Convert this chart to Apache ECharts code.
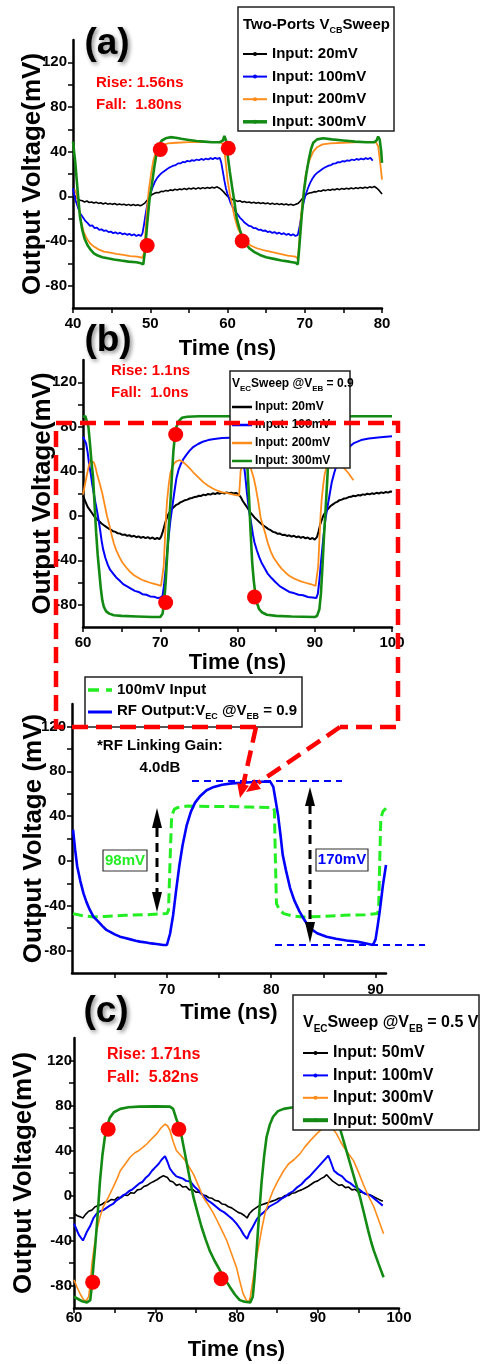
<!DOCTYPE html>
<html>
<head>
<meta charset="utf-8">
<script src="https://cdn.jsdelivr.net/npm/echarts@6/dist/echarts.min.js"></script>
<style>
html,body{margin:0;padding:0;background:#fff;}
#chart{width:483px;height:1364px;}
</style>
</head>
<body>
<div id="chart"></div>
<script>
// ---------------- DATA ----------------
const yLabelValues = [-80, -40, 0, 40, 80, 120];
const yTickValues = [-80, -60, -40, -20, 0, 20, 40, 60, 80, 100, 120];
const xLabelsA = [40, 50, 60, 70, 80];
const xTicksA = [40, 45, 50, 55, 60, 65, 70, 75, 80];
const xLabelsB = [60, 70, 80, 90, 100];
const xTicksB = [60, 65, 70, 75, 80, 85, 90, 95, 100];
const xLabelsZ = [70, 80, 90];
const xTicksZ = [65, 70, 75, 80, 85, 90];
const xLabelsC = [60, 70, 80, 90, 100];
const xTicksC = [60, 65, 70, 75, 80, 85, 90, 95, 100];

// (a) Two-Ports VCB sweep
const a20 = [[40.0,3],[40.3,0],[40.6,-2],[40.9,-3.5],[41.2,-4],[41.5,-5],[41.8,-4.2],[42.1,-5.5],[42.4,-5],[42.7,-6],[43,-5.2],[43.3,-6.3],[43.6,-5.8],[43.9,-6.8],[44.2,-6],[44.5,-7],[44.8,-6.4],[45.1,-7.2],[45.4,-6.5],[45.7,-7.5],[46,-6.8],[46.3,-7.6],[46.6,-7],[46.9,-8],[47.2,-7.2],[47.5,-8.2],[47.8,-7.4],[48.1,-8.3],[48.4,-7.6],[48.7,-8.4],[49,-7.5],[49.3,-6],[49.6,-3.5],[49.9,-0.5],[50.2,1.5],[50.5,2.5],[50.8,3.5],[51.1,3.2],[51.4,4.5],[51.7,4.2],[52,5.3],[52.3,4.8],[52.6,5.8],[52.9,5.2],[53.2,6.3],[53.5,5.6],[53.8,6.6],[54.1,6],[54.4,7],[54.7,6.2],[55,7.2],[55.3,6.5],[55.6,7.5],[55.9,6.6],[56.2,7.6],[56.5,6.8],[56.8,7.8],[57.1,7],[57.4,8],[57.7,7.2],[58,8.2],[58.3,7.4],[58.6,8.5],[58.9,7.5],[59.2,6],[59.5,4],[59.8,1.5],[60.1,-0.5],[60.4,-2],[60.7,-3],[61,-3.5],[61.3,-4.5],[61.6,-4],[61.9,-5.2],[62.2,-4.6],[62.5,-5.5],[62.8,-5],[63.1,-6],[63.4,-5.3],[63.7,-6.2],[64,-5.5],[64.3,-6.5],[64.6,-5.8],[64.9,-6.7],[65.2,-6],[65.5,-7],[65.8,-6.2],[66.1,-7.2],[66.4,-6.4],[66.7,-7.4],[67,-6.6],[67.3,-7.5],[67.6,-6.8],[67.9,-7.8],[68.2,-7],[68.5,-8],[68.8,-7.2],[69.1,-6.5],[69.4,-4.5],[69.7,-2],[70,0.5],[70.3,2],[70.6,3],[70.9,3.3],[71.2,4.2],[71.5,4],[71.8,5],[72.1,4.6],[72.4,5.6],[72.7,5.1],[73,6],[73.3,5.5],[73.6,6.4],[73.9,5.8],[74.2,6.7],[74.5,6],[74.8,7],[75.1,6.3],[75.4,7.2],[75.7,6.5],[76,7.5],[76.3,6.7],[76.6,7.7],[76.9,7],[77.2,8],[77.5,7.2],[77.8,8.2],[78.1,7.4],[78.4,8.5],[78.7,7.8],[79,8.8],[79.3,7.5],[79.6,5.5],[79.9,3],[80,2]];
const a100 = [[40,7],[40.2,0],[40.4,-5],[40.6,-9],[40.8,-13],[41,-16],[41.3,-19],[41.6,-22],[41.9,-24],[42.2,-26.5],[42.5,-26],[42.8,-28.5],[43.1,-28],[43.4,-30],[43.7,-29.5],[44,-31],[44.3,-30.5],[44.6,-32],[44.9,-31.5],[45.2,-33],[45.5,-32.2],[45.8,-33.5],[46.1,-32.5],[46.4,-34],[46.7,-33.2],[47,-34.5],[47.3,-33.6],[47.6,-35],[47.9,-34],[48.2,-35.5],[48.5,-34.5],[48.8,-35.5],[49,-33],[49.2,-25],[49.4,-16],[49.6,-8],[49.8,-2],[50,2],[50.3,8],[50.6,13],[50.9,16.5],[51.2,19],[51.5,21],[51.8,22.5],[52.1,24],[52.4,25.5],[52.7,26.5],[53,27.5],[53.3,28],[53.6,29.5],[53.9,29.5],[54.2,30.8],[54.5,30.5],[54.8,31.8],[55.1,31.2],[55.4,32.4],[55.7,31.8],[56,33],[56.3,32.3],[56.6,33.5],[56.9,32.6],[57.2,33.8],[57.5,33],[57.8,34.2],[58.1,33.3],[58.4,34.5],[58.7,33.6],[59,34.5],[59.2,30],[59.4,22],[59.6,14],[59.8,7],[60,2],[60.2,-2],[60.4,-6],[60.7,-10],[61,-13.5],[61.3,-16],[61.6,-19],[61.9,-21],[62.2,-23.5],[62.5,-25],[62.8,-26.5],[63.1,-27],[63.4,-28.5],[63.7,-28.5],[64,-30],[64.3,-29.8],[64.6,-31],[64.9,-30.6],[65.2,-32],[65.5,-31.4],[65.8,-32.8],[66.1,-32],[66.4,-33.4],[66.7,-32.5],[67,-34],[67.3,-33],[67.6,-34.5],[67.9,-33.6],[68.2,-35],[68.5,-34],[68.8,-35.5],[69.1,-34.5],[69.3,-28],[69.5,-20],[69.7,-11],[69.9,-4],[70.1,1],[70.4,7],[70.7,12],[71,16],[71.3,19],[71.6,21],[71.9,22.5],[72.2,24],[72.5,25.5],[72.8,26.5],[73.1,27.5],[73.4,28],[73.7,29.3],[74,29.5],[74.3,30.6],[74.6,30.5],[74.9,31.6],[75.2,31.2],[75.5,32.3],[75.8,31.8],[76.1,33],[76.4,32.3],[76.7,33.5],[77,32.7],[77.3,33.8],[77.6,33],[77.9,34.2],[78.2,33.4],[78.5,34.5],[78.8,32]];
const a200 = [[40.3,6],[40.5,0],[40.8,-12],[41.1,-24],[41.4,-32],[41.8,-38],[42.2,-42],[42.7,-45],[43.3,-47.5],[44,-49.5],[44.8,-50.5],[45.6,-51.5],[46.5,-52.5],[47.4,-53.5],[48.3,-54],[49,-55],[49.2,-50],[49.4,-30],[49.6,-10],[49.8,5],[50.1,20],[50.4,32],[50.7,39],[51.1,43],[51.6,46],[52.3,47.5],[53.4,48],[55,48.5],[57,48.5],[59,48.5],[59.4,47],[59.7,35],[60,15],[60.3,2],[60.6,-8],[60.9,-18],[61.3,-28],[61.8,-35],[62.3,-40],[63,-44],[63.8,-46.5],[64.8,-48.5],[65.8,-50],[66.8,-51.5],[67.8,-53],[68.8,-54],[69.1,-56],[69.3,-40],[69.5,-18],[69.8,0],[70.1,18],[70.4,28],[70.7,34],[71.1,40],[71.6,44],[72.3,46.5],[73.3,47.5],[75,48],[77,48.5],[79.2,48.5],[79.5,45],[79.8,28],[80,15]];
const a300 = [[40,49],[40.3,30],[40.6,5],[40.9,-18],[41.2,-30],[41.5,-38],[41.9,-44],[42.3,-48],[42.7,-51],[43.2,-53],[43.8,-54.5],[44.5,-55.5],[45.3,-56.5],[46.2,-57.5],[47.2,-58.5],[48.2,-59],[48.8,-60],[49.1,-61],[49.3,-50],[49.6,-25],[49.9,-3],[50.2,10],[50.5,25],[50.8,38],[51.1,46],[51.5,50],[52,52],[52.6,53],[53.3,52.5],[54,51.5],[55,50.5],[56,49.5],[57,49],[58,48.5],[59,48.5],[59.4,50],[59.6,54],[59.8,50],[60,38],[60.3,22],[60.6,8],[60.9,-5],[61.2,-20],[61.6,-30],[62,-38],[62.4,-43],[62.9,-47],[63.5,-50],[64.2,-52.5],[65,-54.5],[66,-56],[67,-57.5],[68,-58.5],[68.8,-59.5],[69.1,-61],[69.3,-45],[69.6,-18],[69.9,5],[70.2,20],[70.5,32],[70.8,42],[71.1,48],[71.6,51],[72.4,52],[73.5,51],[75,50],[76.5,49],[78,48.5],[79,48.5],[79.3,50],[79.5,53.5],[79.7,51],[79.9,40],[80,30]];
const aDots = [[51.3,42],[49.6,-44],[60.1,43],[61.9,-40]];

// (b) VEC sweep @VEB = 0.9
const b20 = [[60,18],[60.3,13],[60.6,8],[60.9,5],[61.2,2],[61.5,-1],[61.8,-3],[62.1,-5],[62.4,-7],[62.7,-8.5],[63,-10],[63.3,-11.5],[63.6,-12.5],[63.9,-14],[64.2,-14.5],[64.5,-15.8],[64.8,-16],[65.1,-17.2],[65.4,-16.8],[65.7,-18],[66,-17.5],[66.3,-18.8],[66.6,-18],[66.9,-19.3],[67.2,-18.5],[67.5,-19.8],[67.8,-19],[68.1,-20.2],[68.4,-19.2],[68.7,-20.5],[69,-19.5],[69.3,-21],[69.6,-20],[69.9,-21],[70.1,-19],[70.3,-15],[70.5,-10],[70.7,-5],[70.9,-1],[71.1,2],[71.4,5],[71.7,7.5],[72,9.5],[72.3,10.5],[72.6,12],[72.9,13],[73.2,14],[73.5,14.5],[73.8,15.5],[74.1,16],[74.4,16.8],[74.7,17],[75,18],[75.3,17.8],[75.6,19],[75.9,18.5],[76.2,19.6],[76.5,19],[76.8,20.2],[77.1,19.5],[77.4,20.5],[77.7,19.8],[78,20.8],[78.3,20],[78.6,21],[78.9,20.2],[79.2,20.8],[79.5,20],[79.8,20.5],[80.1,19.5],[80.4,17],[80.7,13],[81,10],[81.3,7],[81.6,3.5],[81.9,1],[82.2,-1.5],[82.5,-3.5],[82.8,-5.5],[83.1,-7.5],[83.4,-9],[83.7,-10.5],[84,-12],[84.3,-13],[84.6,-14.5],[84.9,-15],[85.2,-16.2],[85.5,-16],[85.8,-17.3],[86.1,-17],[86.4,-18.2],[86.7,-17.6],[87,-18.8],[87.3,-18],[87.6,-19.3],[87.9,-18.6],[88.2,-19.8],[88.5,-19],[88.8,-20.3],[89.1,-19.5],[89.4,-21],[89.7,-20],[90,-21.5],[90.3,-19],[90.5,-14],[90.7,-8],[90.9,-4],[91.1,0],[91.4,3.5],[91.7,6],[92,8.5],[92.3,10],[92.6,11.5],[92.9,12.5],[93.2,14],[93.5,14.5],[93.8,15.5],[94.1,15.8],[94.4,16.8],[94.7,17],[95,18],[95.3,17.6],[95.6,18.6],[95.9,18.2],[96.2,19.2],[96.5,18.8],[96.8,19.8],[97.1,19.2],[97.4,20.2],[97.7,19.6],[98,20.6],[98.3,20],[98.6,21],[98.9,20.4],[99.2,21.4],[99.5,20.8],[99.8,21.8],[100,21.5]];
const b100 = [[60,71],[60.2,70],[60.4,65],[60.6,57],[60.8,46],[61,38],[61.2,28],[61.4,20],[61.6,12],[61.8,5],[62,-3],[62.2,-12],[62.4,-22],[62.6,-30],[62.9,-38],[63.2,-44],[63.5,-48.5],[63.9,-52],[64.3,-55.5],[64.7,-58],[65.2,-61.5],[65.7,-63.5],[66.2,-65.5],[66.7,-67.5],[67.2,-68.5],[67.7,-70.5],[68.2,-71],[68.7,-72.5],[69.2,-72.8],[69.7,-74],[70,-73.5],[70.3,-72],[70.5,-62],[70.7,-48],[70.9,-33],[71.1,-18],[71.3,-5],[71.5,5],[71.8,20],[72.1,34],[72.4,42],[72.7,47],[73,51],[73.4,55],[73.8,58.5],[74.3,62],[74.9,64.5],[75.5,66.5],[76.2,68],[77,69],[78,69.8],[79,70.2],[80,70.5],[80.4,69],[80.6,60],[80.8,48],[81,36],[81.2,22],[81.4,10],[81.6,0],[81.8,-8],[82,-17],[82.2,-24],[82.5,-31],[82.8,-37],[83.1,-42],[83.5,-47],[83.9,-52],[84.4,-56],[84.9,-59.5],[85.5,-63.5],[86.1,-66],[86.7,-68.5],[87.3,-69.5],[87.9,-71],[88.5,-71.5],[89.1,-73],[89.7,-73.5],[90.2,-74],[90.4,-70],[90.6,-58],[90.8,-42],[91,-28],[91.2,-14],[91.4,-2],[91.6,6],[91.9,18],[92.2,30],[92.5,38],[92.8,45],[93.2,51],[93.7,56],[94.3,61],[95,65],[96,68],[97,69.5],[98.5,70.5],[100,71.5]];
const b200 = [[60,19],[60.2,26],[60.4,33],[60.6,40],[60.8,46],[61,49.5],[61.2,50],[61.4,48],[61.6,44],[61.8,38],[62,33],[62.2,28],[62.5,20],[62.8,10],[63.1,0],[63.4,-8],[63.7,-17],[64,-25],[64.3,-31],[64.7,-37],[65.1,-42],[65.6,-46.5],[66.1,-50.5],[66.6,-53.5],[67.1,-55.5],[67.6,-57.5],[68.1,-58.8],[68.6,-60],[69.1,-61],[69.6,-62],[70.1,-63],[70.3,-62],[70.45,-45],[70.6,-22],[70.75,0],[70.9,15],[71.1,28],[71.3,38],[71.5,43],[71.8,47],[72.1,49],[72.5,50],[72.9,48.5],[73.4,45.5],[73.9,42],[74.4,38],[75,34],[75.6,30],[76.2,27],[76.8,24.5],[77.4,22.5],[78,21],[78.6,20.5],[79.2,19.5],[79.8,18.5],[80.2,18],[80.3,28],[80.4,40],[80.6,46],[80.9,49.5],[81.2,50],[81.5,47],[81.8,41],[82.1,34],[82.4,24],[82.7,12],[83,-2],[83.3,-9],[83.6,-16],[83.9,-24],[84.3,-32],[84.7,-38],[85.2,-43],[85.7,-47.5],[86.2,-51],[86.7,-54],[87.2,-56],[87.7,-57.5],[88.2,-59],[88.7,-60],[89.2,-61],[89.7,-62],[90.1,-63],[90.3,-62],[90.45,-45],[90.6,-22],[90.75,0],[90.9,15],[91.1,28],[91.3,38],[91.5,43],[91.8,47],[92.1,49],[92.5,50],[92.9,48.5],[93.4,45.5],[93.9,42],[94.4,38],[94.8,34],[95,32]];
const b300 = [[60,89],[60.3,89.5],[60.5,88],[60.7,80],[60.9,65],[61.1,48],[61.3,35],[61.5,10],[61.7,-15],[61.9,-35],[62.1,-50],[62.3,-65],[62.5,-76],[62.7,-82],[63,-86],[63.4,-88],[64,-89.5],[65,-90],[67,-90.5],[69,-91],[70,-91],[70.3,-88],[70.5,-78],[70.7,-60],[70.9,-35],[71.1,-10],[71.3,10],[71.5,35],[71.7,58],[71.9,72],[72.1,80],[72.4,85],[72.8,88],[73.5,89],[75,89.5],[78,89.5],[80.5,89.5],[80.7,88],[80.9,78],[81.1,60],[81.3,42],[81.5,15],[81.7,-15],[81.9,-42],[82.1,-58],[82.3,-70],[82.5,-78],[82.8,-84],[83.2,-87],[83.8,-89],[85,-90],[87,-90.5],[90,-91],[90.3,-90],[90.6,-84],[90.8,-70],[91,-45],[91.2,-18],[91.4,5],[91.6,30],[91.8,55],[92,72],[92.2,82],[92.5,87],[93,89],[95,89.5],[100,89.5]];
const bDots = [[72.0,73],[70.7,-78],[82.2,-73]];

// zoomed view: 100mV input vs RF output
const zInput = [[61,-47],[62,-49],[63,-50],[64,-49.5],[66,-48.5],[68,-48],[70,-47],[70.15,-44],[70.3,0],[70.45,40],[70.7,46],[71,47.5],[72,49],[74,48.5],[76,48.5],[78,48],[80.2,47.5],[80.3,45],[80.4,0],[80.5,-38],[80.8,-44],[81.2,-47],[82,-49],[83,-50],[85,-49.5],[87,-48.5],[89,-48],[90.2,-47],[90.3,-40],[90.4,0],[90.5,38],[90.7,44],[91,47]];
const zOutput = [[61,28],[61.2,10],[61.4,-5],[61.7,-18],[62,-29],[62.3,-37],[62.6,-43.5],[62.95,-49.7],[63.4,-54],[63.8,-58],[64.2,-61.6],[64.6,-63.5],[65,-65.5],[65.5,-67.6],[66,-68.8],[66.5,-70],[67,-71.2],[67.4,-72],[68,-72.8],[68.5,-73.6],[69,-74.2],[69.65,-75],[70,-75],[70.3,-65],[70.6,-48],[70.9,-25],[71.2,-3.6],[71.5,14],[71.9,32],[72.3,44],[72.7,52],[73.2,58],[73.8,63],[74.5,66],[75.3,68],[76.2,69.2],[77,69.6],[78,70.2],[79,70.6],[79.9,70.8],[80.2,66],[80.4,55],[80.65,41],[80.9,22],[81.1,5.4],[81.4,-8],[81.8,-24],[82.2,-35],[82.7,-45],[83.2,-53],[83.7,-60],[84.4,-64.5],[85.3,-67.6],[86.2,-69.5],[87.2,-71],[88.2,-72],[89,-73.5],[89.75,-75],[90,-70],[90.2,-58],[90.4,-45],[90.7,-22],[91,-3.6]];

// (c) VEC sweep @VEB = 0.5 V
const c50 = [[60,-16],[60.4,-18],[60.8,-19],[61.1,-20],[61.4,-17],[61.8,-14],[62.2,-13],[62.6,-10],[63,-9],[63.4,-8],[63.8,-6],[64.2,-5.5],[64.6,-3.5],[65,-4],[65.4,-1.5],[65.8,-2],[66.2,0.5],[66.6,0],[67,2.5],[67.4,2],[67.8,5],[68.2,5.5],[68.6,8],[69,9],[69.4,11],[69.8,12.5],[70.2,14],[70.6,16],[71,17.5],[71.2,19],[71.5,16],[71.8,13],[72.2,12],[72.6,9],[73,10],[73.4,7.5],[73.8,8],[74.2,5],[74.6,5.5],[75,3],[75.4,3],[75.8,0.5],[76.2,0],[76.6,-2],[77,-2.5],[77.4,-4.5],[77.8,-5],[78.2,-7.5],[78.6,-8],[79,-10],[79.4,-11],[79.8,-13],[80.2,-15],[80.6,-16],[81,-18],[81.3,-20],[81.6,-16],[82,-13],[82.4,-11],[82.8,-9],[83.2,-8],[83.6,-7],[84,-6],[84.4,-5],[84.8,-4],[85.2,-2.5],[85.6,-2],[86,0],[86.4,0],[86.8,2],[87.2,2.5],[87.6,4],[88,5],[88.4,6.5],[88.8,8],[89.2,10],[89.6,12],[90,13],[90.4,15],[90.8,16.5],[91.1,18.5],[91.4,16],[91.8,13],[92.2,11],[92.6,9],[93,9.5],[93.4,7],[93.8,7.5],[94.2,5],[94.6,5.5],[95,3],[95.4,3],[95.8,1.5],[96.2,1],[96.6,0],[97,-1.5],[97.4,-3],[97.8,-4.5],[98,-5]];
const c100 = [[60,-25],[60.3,-30],[60.6,-35],[60.9,-38],[61.1,-40],[61.3,-37],[61.6,-32],[62,-27],[62.4,-20],[62.8,-16],[63.2,-14],[63.6,-13],[64,-11],[64.4,-9],[64.8,-7.5],[65.2,-4.5],[65.6,-2.5],[66,0],[66.4,1.5],[66.8,4],[67.2,5.5],[67.6,8],[68,10.5],[68.4,12],[68.8,15.5],[69.2,18],[69.6,22],[70,25],[70.4,28],[70.8,32],[71.2,35],[71.5,30],[71.8,24],[72.2,20],[72.6,17],[73,16],[73.4,15],[73.8,13],[74.3,12.5],[74.8,8],[75.4,4],[75.9,0],[76.4,-4],[77,-7],[77.5,-10],[78,-13],[78.5,-15],[79,-18],[79.5,-21],[80,-25],[80.5,-30],[80.9,-35],[81.3,-38.5],[81.6,-33],[82,-28],[82.5,-21],[83,-17],[83.5,-14],[84,-10],[84.5,-8],[85,-6],[85.5,-3],[86,-1],[86.5,2],[87,4],[87.5,7.5],[88,10],[88.5,14],[89,17],[89.5,21],[90,25],[90.5,29],[91,33],[91.3,35.5],[91.6,30],[92,22],[92.5,19],[93,17],[93.5,13],[94,11],[94.5,8],[95,6],[95.5,3],[96,1],[96.5,0],[97,-3],[97.5,-6],[98,-9]];
const c300 = [[60,-75],[60.4,-82],[60.8,-88],[61.2,-93],[61.5,-93.5],[61.8,-90],[62,-78],[62.2,-61],[62.5,-45],[62.8,-31],[63.2,-19],[63.6,-10],[64.2,-2],[64.8,7],[65.3,15],[65.7,22],[66.3,28],[66.9,34],[67.5,38],[68,40],[68.5,43],[69,46],[69.5,50],[70.2,55],[70.7,60],[71.2,63.5],[71.5,62],[71.8,58],[72.2,48],[72.6,40],[73.1,36],[73.7,31],[74.2,25],[74.7,19],[75.3,9],[75.9,-1.5],[76.5,-8],[77.1,-15],[77.6,-22],[78.2,-31],[78.8,-40],[79.4,-52],[80,-64],[80.4,-76],[80.8,-87],[81.2,-93],[81.5,-95],[81.7,-90],[81.9,-81],[82.3,-62],[82.7,-46],[83.1,-30],[83.5,-16],[84,-5],[84.5,4.4],[85.1,13],[85.8,22],[86.4,28],[87.1,32],[87.8,37],[88.4,43],[89.1,49],[89.9,55],[90.5,59],[91.2,63],[91.6,60],[92,58],[92.3,55],[92.8,48],[93.2,43],[93.8,37],[94.4,31],[95,21],[95.6,10],[96.2,0],[96.9,-10],[97.5,-22],[98.1,-34]];
const c500 = [[60,-90],[60.5,-92],[61,-94],[61.6,-95],[62,-93],[62.2,-80],[62.4,-62],[62.6,-46],[62.9,-18],[63.2,13],[63.5,36],[63.8,52],[64.1,62],[64.4,69],[64.9,74],[65.7,77],[66.7,78.5],[68,79],[70,79.2],[71.8,79],[72.2,77],[72.6,68],[73.1,58],[73.5,43],[73.9,28],[74.3,13],[74.7,-1.5],[75.2,-15],[75.7,-28],[76.2,-39],[76.7,-49],[77.3,-58],[78,-67],[78.6,-74.5],[79.2,-81.5],[79.8,-88],[80.4,-93],[81,-94.5],[81.7,-95],[82,-90],[82.2,-75],[82.5,-46],[82.8,-15],[83.1,13],[83.4,35],[83.7,52],[84.1,63],[84.5,70],[85.1,75],[85.8,77],[87,78.5],[88.5,79],[90,79.2],[91.5,79],[92,76],[92.4,68],[92.8,58],[93.4,43],[94,28],[94.6,13],[95.2,-1.5],[95.7,-16],[96.2,-31],[96.6,-42],[96.9,-49],[97.5,-61],[98.1,-72.6]];
const cDots = [[64.2,59],[72.9,59],[62.3,-77],[78.1,-74]];

// ---------------- STYLE ----------------
const FONT = '"Liberation Sans", Arial, Helvetica, sans-serif';
const BLACK = '#000000', BLUE = '#0000ff', ORANGE = '#ff8c1a', GREEN = '#138a13', RED = '#ff0000', LIME = '#22ee22';

const grids = [
  {left: 73, top: 40, width: 309, height: 268},
  {left: 83, top: 360, width: 309, height: 267},
  {left: 72, top: 704, width: 314, height: 269},
  {left: 74, top: 1038, width: 325, height: 270}
];

function xAxisCfg(i, min, max, labels, ticks, margin, nameGap) {
  return {
    type: 'value', gridIndex: i, min: min, max: max,
    name: 'Time (ns)', nameLocation: 'middle', nameGap: nameGap, nameMoveOverlap: false,
    nameTextStyle: {fontFamily: FONT, fontWeight: 'bold', fontSize: 22, color: '#000'},
    axisLine: {show: true, onZero: false, lineStyle: {color: '#000', width: 2.5}},
    axisTick: {show: true, inside: false, length: 5, customValues: ticks, lineStyle: {color: '#000', width: 1.5}},
    axisLabel: {show: true, margin: margin, customValues: labels, fontFamily: FONT, fontWeight: 'bold', fontSize: 15, color: '#000'},
    splitLine: {show: false}
  };
}
function yAxisCfg(i, name, margin, nameGap) {
  return {
    type: 'value', gridIndex: i, min: -100, max: 140,
    name: name, nameLocation: 'middle', nameGap: nameGap, nameMoveOverlap: false,
    nameTextStyle: {fontFamily: FONT, fontWeight: 'bold', fontSize: 26, color: '#000'},
    axisLine: {show: true, onZero: false, lineStyle: {color: '#000', width: 2.5}},
    axisTick: {show: true, inside: false, length: 5, customValues: yTickValues, lineStyle: {color: '#000', width: 1.5}},
    axisLabel: {show: true, margin: margin, customValues: yLabelValues, fontFamily: FONT, fontWeight: 'bold', fontSize: 15, color: '#000'},
    splitLine: {show: false}
  };
}
function lineS(name, data, gi, color, width, z, dash) {
  return {
    type: 'line', name: name, data: data, xAxisIndex: gi, yAxisIndex: gi,
    showSymbol: false, symbol: 'none', smooth: false, z: z || 2,
    lineStyle: {color: color, width: width, type: dash || 'solid'},
    itemStyle: {color: color}, animation: false
  };
}
function dotS(data, gi) {
  return {type: 'scatter', data: data, xAxisIndex: gi, yAxisIndex: gi, symbol: 'circle', symbolSize: 15,
    itemStyle: {color: RED, opacity: 1}, z: 20, animation: false, silent: true};
}

// ---------------- GRAPHIC HELPERS ----------------
const mctx = document.createElement('canvas').getContext('2d');
function tw(t, size) { mctx.font = 'bold ' + size + 'px ' + FONT; return mctx.measureText(t).width; }
function T(x, y, text, size, color, align, extra) {
  const st = Object.assign({text: text, fontFamily: FONT, fontWeight: 'bold', fontSize: size, fill: color || '#000',
    align: align || 'left', verticalAlign: 'middle', textAlign: align || 'left', textVerticalAlign: 'middle'}, extra || {});
  return {type: 'text', x: x, y: y, z: 200, silent: true, style: st};
}
function subRow(x, y, parts, size, subSize, color) {
  const out = []; let cx = x;
  parts.forEach(p => {
    const s = p[1] ? subSize : size;
    out.push(T(cx, p[1] ? y + size * 0.38 : y, p[0], s, color));
    cx += tw(p[0], s);
  });
  return out;
}
function box(x1, y1, x2, y2, lw, stroke) {
  return {type: 'rect', z: 150, silent: true, shape: {x: x1, y: y1, width: x2 - x1, height: y2 - y1},
    style: {fill: '#fff', stroke: stroke || '#222', lineWidth: lw || 1.5}};
}
function seg(x1, y1, x2, y2, color, w, dash, z) {
  return {type: 'line', z: z || 200, silent: true, shape: {x1: x1, y1: y1, x2: x2, y2: y2},
    style: {stroke: color, lineWidth: w, lineDash: dash || null}};
}
function dot(x, y, r, color) {
  return {type: 'circle', z: 201, silent: true, shape: {cx: x, cy: y, r: r}, style: {fill: color}};
}
function head(x1, y1, x2, y2, len, hw, color, z) {
  const dx = x2 - x1, dy = y2 - y1, L = Math.sqrt(dx * dx + dy * dy), ux = dx / L, uy = dy / L;
  const bx = x2 - ux * len, by = y2 - uy * len;
  return {type: 'polygon', z: z || 200, silent: true,
    shape: {points: [[x2, y2], [bx - uy * hw, by + ux * hw], [bx + uy * hw, by - ux * hw]]}, style: {fill: color}};
}

const g = [];
// Panel labels
const shadow = {textShadowColor: 'rgba(0,0,0,0.45)', textShadowBlur: 4, textShadowOffsetX: 2, textShadowOffsetY: 2};
g.push(T(107, 44, '(a)', 37, '#000', 'center', shadow));
g.push(T(108, 341, '(b)', 37, '#000', 'center', shadow));
g.push(T(106, 1012, '(c)', 37, '#000', 'center', shadow));
// Rise / Fall
g.push(T(96, 83, 'Rise: 1.56ns', 15, RED));
g.push(T(96, 105, 'Fall:  1.80ns', 15, RED));
g.push(T(111, 371, 'Rise: 1.1ns', 15, RED));
g.push(T(111, 393, 'Fall:  1.0ns', 15, RED));
g.push(T(107, 1055, 'Rise: 1.71ns', 16, RED));
g.push(T(107, 1078, 'Fall:  5.82ns', 16, RED));

// Legend (a)
g.push(box(238, 7, 394, 131, 1.5));
subRow(243, 25, [['Two-Ports V', 0], ['CB', 1], ['Sweep', 0]], 15, 9, '#000').forEach(e => g.push(e));
const legA = [['Input: 20mV', BLACK, 2], ['Input: 100mV', BLUE, 2], ['Input: 200mV', ORANGE, 2], ['Input: 300mV', GREEN, 3.5]];
legA.forEach((it, k) => {
  const y = 54 + k * 22.6;
  g.push(seg(243, y, 267, y, it[1], it[2]));
  g.push(dot(255, y, 2, it[1]));
  g.push(T(272, y, it[0], 15, '#000'));
});

// Legend (b)
g.push(box(230, 371, 350, 468, 1.5));
subRow(232, 384, [['V', 0], ['EC', 1], ['Sweep @V', 0], ['EB', 1], [' = 0.9', 0]], 12, 8, '#000').forEach(e => g.push(e));
const legB = [['Input: 20mV', BLACK], ['Input: 100mV', BLUE], ['Input: 200mV', ORANGE], ['Input: 300mV', GREEN]];
legB.forEach((it, k) => {
  const y = 407 + k * 18;
  g.push(seg(232, y, 252, y, it[1], 2.5));
  g.push(T(255, y, it[0], 12, '#000'));
});

// Legend (zoom)
g.push(box(85, 677, 302, 727, 1.5));
g.push(seg(88, 690, 112, 690, LIME, 3.5, [11, 7]));
g.push(T(117, 690, '100mV Input', 15, '#000'));
g.push(seg(88, 712, 112, 712, BLUE, 3));
subRow(117, 711, [['RF Output:V', 0], ['EC', 1], [' @V', 0], ['EB', 1], [' = 0.9', 0]], 15, 9, '#000').forEach(e => g.push(e));

// Zoom annotations
g.push(T(97, 746, '*RF Linking Gain:', 15, '#000'));
g.push(T(160, 768, '4.0dB', 15, '#000', 'center'));
g.push(box(103, 850, 147, 871, 1.2, '#333'));
g.push(T(125, 861, '98mV', 15, LIME, 'center'));
g.push(box(316, 849, 368, 871, 1.2, '#333'));
g.push(T(342, 860, '170mV', 15, BLUE, 'center'));
// blue dashed reference levels
g.push(seg(192, 781, 342, 781, BLUE, 2, [7, 5], 190));
g.push(seg(275, 945, 425, 945, BLUE, 2, [7, 5], 190));
// black dashed double arrows
g.push(seg(157, 828, 157, 893, '#000', 3, [9, 6]));
g.push(head(157, 830, 157, 808, 20, 5, '#000'));
g.push(head(157, 890, 157, 912, 20, 5, '#000'));
g.push(seg(310, 805, 310, 924, '#000', 3, [9, 6]));
g.push(head(310, 807, 310, 787, 19, 5, '#000'));
g.push(head(310, 921, 310, 943, 21, 5, '#000'));

// Legend (c)
g.push(box(293, 995, 479, 1130, 1.5));
subRow(303, 1023, [['V', 0], ['EC', 1], ['Sweep @V', 0], ['EB', 1], [' = 0.5 V', 0]], 16, 10, '#000').forEach(e => g.push(e));
const legC = [['Input: 50mV', BLACK, 2], ['Input: 100mV', BLUE, 2], ['Input: 300mV', ORANGE, 2], ['Input: 500mV', GREEN, 4]];
legC.forEach((it, k) => {
  const y = 1053 + k * 22.4;
  g.push(seg(303, y, 328, y, it[1], it[2]));
  g.push(dot(315.5, y, 2, it[1]));
  g.push(T(333, y, it[0], 16, '#000'));
});

// Red dashed zoom call-out
g.push({type: 'polyline', z: 300, silent: true,
  shape: {points: [[256, 727], [56, 727], [56, 423], [398, 423], [398, 727], [340, 727]]},
  style: {stroke: RED, lineWidth: 4.5, lineDash: [16, 8], fill: null}});
g.push(seg(256, 727, 243, 786, RED, 4.5, [16, 8], 300));
g.push(head(256, 727, 240, 798, 14, 6, RED, 300));
g.push(seg(340, 727, 258, 783, RED, 4.5, [16, 8], 300));
g.push(head(340, 727, 246, 792, 14, 6, RED, 300));

// ---------------- CHART ----------------
const chart = echarts.init(document.getElementById('chart'), null, {renderer: 'canvas'});
chart.setOption({
  backgroundColor: '#fff',
  animation: false,
  grid: grids,
  xAxis: [
    xAxisCfg(0, 40, 80, xLabelsA, xTicksA, 8, 30),
    xAxisCfg(1, 60, 100, xLabelsB, xTicksB, 8, 25),
    xAxisCfg(2, 60.9, 91, xLabelsZ, xTicksZ, 9, 29),
    xAxisCfg(3, 60, 100, xLabelsC, xTicksC, 2, 31)
  ],
  yAxis: [
    yAxisCfg(0, 'Output Voltage(mV)', 6, 27),
    yAxisCfg(1, 'Output Voltage(mV)', 6, 27),
    yAxisCfg(2, 'Output Voltage (mV)', 6, 25),
    yAxisCfg(3, 'Output Voltage(mV)', 2, 37)
  ],
  series: [
    lineS('Input: 20mV', a20, 0, BLACK, 1.6, 2),
    lineS('Input: 100mV', a100, 0, BLUE, 1.8, 3),
    lineS('Input: 200mV', a200, 0, ORANGE, 1.8, 4),
    lineS('Input: 300mV', a300, 0, GREEN, 2.6, 5),
    dotS(aDots, 0),
    lineS('Input: 20mV', b20, 1, BLACK, 2, 2),
    lineS('Input: 100mV', b100, 1, BLUE, 2, 3),
    lineS('Input: 200mV', b200, 1, ORANGE, 1.8, 4),
    lineS('Input: 300mV', b300, 1, GREEN, 2.6, 5),
    dotS(bDots, 1),
    lineS('100mV Input', zInput, 2, LIME, 3, 3, [10, 5]),
    lineS('RF Output', zOutput, 2, BLUE, 2.6, 4),
    lineS('Input: 50mV', c50, 3, BLACK, 1.6, 2),
    lineS('Input: 100mV', c100, 3, BLUE, 2, 3),
    lineS('Input: 300mV', c300, 3, ORANGE, 1.6, 4),
    lineS('Input: 500mV', c500, 3, GREEN, 2.6, 5),
    dotS(cDots, 3)
  ],
  graphic: {elements: g}
});
</script>
</body>
</html>
